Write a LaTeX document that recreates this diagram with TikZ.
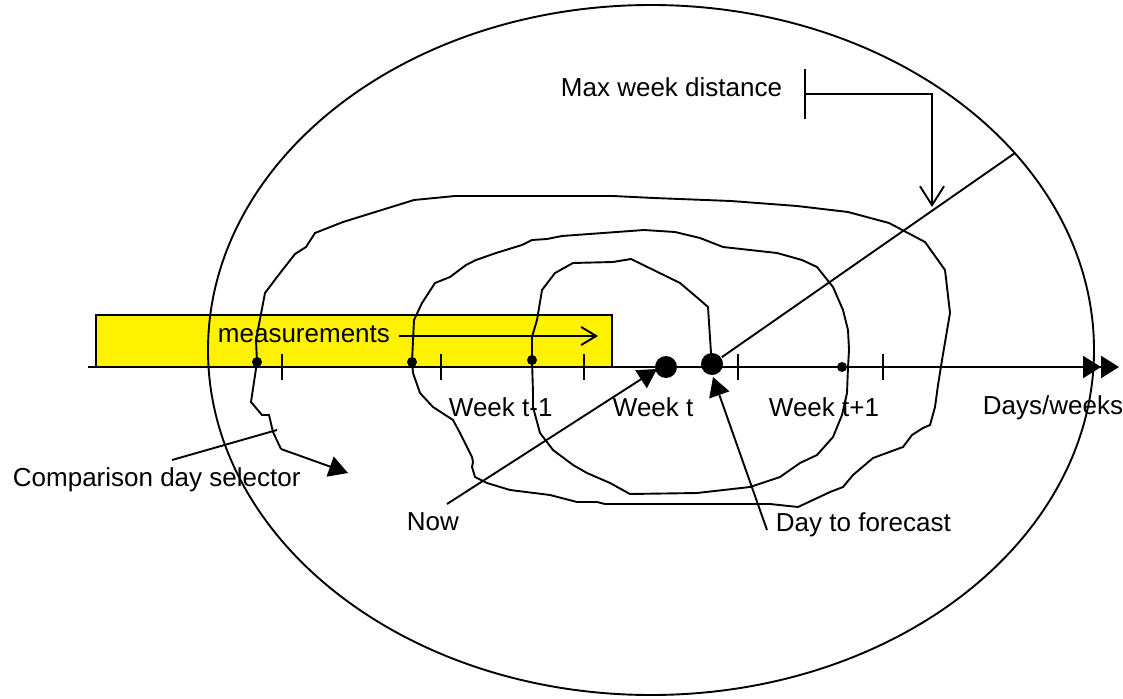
\documentclass[tikz,border=0pt]{standalone}
\usepackage{fontspec}
\setmainfont{Liberation Sans}
\usetikzlibrary{arrows.meta}
\begin{document}
\begin{tikzpicture}[x=1pt,y=-1pt,line width=1.9pt,
  lbl/.style={font=\fontsize{26}{30}\selectfont,inner sep=0pt,anchor=base west},
  sdot/.style={circle,fill=black,inner sep=0pt,minimum size=10pt},
  bdot/.style={circle,fill=black,inner sep=0pt,minimum size=22pt},
  filltip/.style={-{Triangle[length=19pt,width=21pt]}},
  barb/.style={-{Straight Barb[length=19pt,width=24pt]}},
  smallbarb/.style={-{Straight Barb[length=15pt,width=18pt]}},
  axisline/.style={line width=2.4pt,-{Triangle[length=18pt,width=22pt]Triangle[length=18pt,width=22pt]}}]
\useasboundingbox (0,0) rectangle (1123,698);
\fill[white] (0,0) rectangle (1123,698);

% yellow measurements box
\node[draw,fill=yellow,line width=1.5pt,minimum width=516pt,minimum height=52pt,inner sep=0pt] (box) at (354,341) {};

% big ellipse
\draw (651,350) ellipse [x radius=443pt,y radius=345pt];

% axis
\coordinate (axs) at (88,367);
\coordinate (axe) at (1119,367);
\draw[axisline] (axs) -- (axe);

% ticks
\foreach \t/\x in {t1/282,t2/441,t3/584,t4/738,t5/883}{
  \coordinate (\t a) at (\x,354);
  \coordinate (\t b) at (\x,380);
  \draw (\t a) -- (\t b);
}

% dots
\node[sdot] (d1) at (257,362) {};
\node[sdot] (d2) at (412,362) {};
\node[sdot] (d3) at (532,360) {};
\node[sdot] (d4) at (842,367) {};
\node[bdot] (now) at (666,367) {};
\node[bdot] (fc) at (712,364) {};

% spiral path
\draw (fc.center) -- (711,353) -- (708,307) -- (700,300) -- (680,283) -- (631,259)
  -- (613,262) -- (573,263) -- (555,273) -- (542,290) -- (537,320) -- (532,337)
  -- (d3.center)
  -- (533,393) -- (533,407) -- (540,433) -- (553,450) -- (573,465) -- (587,473)
  -- (610,483) -- (630,494) -- (697,493) -- (750,487) -- (780,477) -- (800,463)
  -- (817,455) -- (833,437) -- (842,415) -- (847,393) -- (848,367)
  -- (849,350) -- (848,330) -- (843,310) -- (833,287) -- (817,267) -- (802,260)
  -- (777,253) -- (723,247) -- (700,238) -- (675,232) -- (644,230) -- (562,236)
  -- (547,239) -- (532,240) -- (522,245) -- (496,253) -- (476,260) -- (466,265)
  -- (450,277) -- (435,283) -- (422,303) -- (414,320) -- (d2.center)
  -- (413,373) -- (420,393) -- (433,407) -- (453,420) -- (460,433) -- (472,457)
  -- (473,462) -- (472,467) -- (475,477) -- (487,483) -- (510,490) -- (550,495)
  -- (577,502) -- (597,502) -- (605,504) -- (770,504) -- (798,507) -- (813,500)
  -- (830,492) -- (843,487) -- (853,475) -- (873,458) -- (903,447) -- (912,435)
  -- (923,428) -- (930,425) -- (935,407) -- (938,385) -- (942,360)
  -- (950,313) -- (945,270) -- (925,242) -- (889,223) -- (848,212) -- (797,206)
  -- (731,201) -- (654,198) -- (613,196) -- (455,196) -- (414,200) -- (343,222)
  -- (315,233) -- (306,247) -- (295,254) -- (277,277) -- (265,293) -- (256,340)
  -- (d1.center) -- (251,402) -- (262,415) -- (269,415) -- (273,432) -- (281,449);
\coordinate (cmpstart) at (281,449);
\coordinate (cmpend) at (348,473);
\draw[filltip] (cmpstart) -- (cmpend);

% labels
\node[lbl] (meas) at (217,342) {measurements};
\node[lbl] (wk1) at (448,416) {Week t-1};
\node[lbl] (wk2) at (612,416) {Week t};
\node[lbl] (wk3) at (768,416) {Week t+1};
\node[lbl] (days) at (982,414) {Days/weeks};
\node[lbl] (cmp) at (12,486) {Comparison day selector};
\node[lbl] (nowl) at (406,530) {Now};
\node[lbl] (dayf) at (775,531) {Day to forecast};
\node[lbl] (maxw) at (560,96) {Max week distance};

% measurements arrow
\coordinate (ma) at (399,336);
\coordinate (mb) at (598,336);
\draw[smallbarb] (ma) -- (mb);

% comparison selector pointer line
\coordinate (cs1) at (172,460);
\coordinate (cs2) at (277,430);
\draw (cs1) -- (cs2);

% Now arrow
\coordinate (nowfoot) at (447,504);
\coordinate (nowtip) at (657,369);
\draw[filltip] (nowfoot) -- (nowtip);

% Day to forecast arrow
\coordinate (fcfoot) at (767,530);
\coordinate (fctip) at (713,377);
\draw[filltip] (fcfoot) -- (fctip);

% max week distance line and bracket
\coordinate (mwend) at (1015,153);
\draw (fc) -- (mwend);
\coordinate (bar1) at (805,69);
\coordinate (bar2) at (805,119);
\draw (bar1) -- (bar2);
\coordinate (barm) at (805,94);
\coordinate (bend) at (932,94);
\coordinate (btip) at (932,207);
\draw[barb] (barm) -- (bend) -- (btip);
\end{tikzpicture}
\end{document}
